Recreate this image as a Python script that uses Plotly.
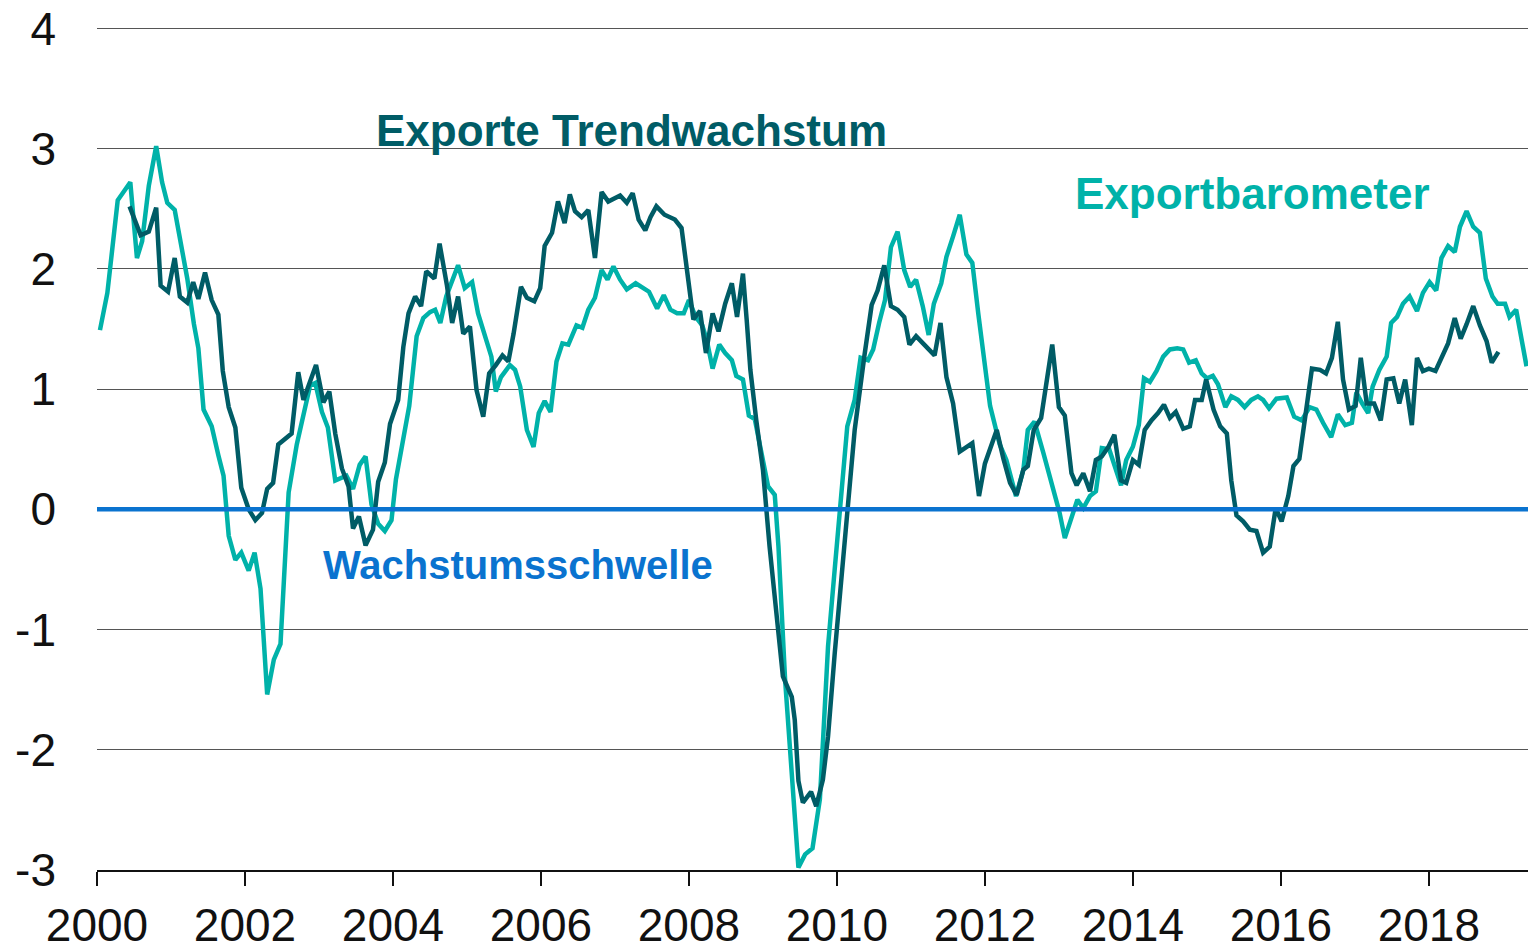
import plotly.graph_objects as go

# Exportbarometer (decimal year, value)
baro_x = [2000.04, 2000.14, 2000.28, 2000.45, 2000.54, 2000.61, 2000.70, 2000.80, 2000.88, 2000.95,
          2001.05, 2001.13, 2001.22, 2001.31, 2001.37, 2001.44, 2001.55, 2001.64, 2001.71, 2001.78,
          2001.87, 2001.95, 2002.05, 2002.13, 2002.21, 2002.30, 2002.39, 2002.48, 2002.59, 2002.70,
          2002.88, 2002.95, 2003.04, 2003.12, 2003.22, 2003.37, 2003.46, 2003.55, 2003.63, 2003.71,
          2003.80, 2003.89, 2003.98, 2004.04, 2004.13, 2004.22, 2004.32, 2004.41, 2004.50, 2004.57,
          2004.64, 2004.72, 2004.88, 2004.97, 2005.07, 2005.15, 2005.26, 2005.33, 2005.39, 2005.46,
          2005.58, 2005.65, 2005.72, 2005.81, 2005.90, 2005.97, 2006.05, 2006.13, 2006.21, 2006.29,
          2006.37, 2006.48, 2006.56, 2006.64, 2006.73, 2006.82, 2006.90, 2006.98, 2007.07, 2007.16,
          2007.28, 2007.37, 2007.46, 2007.57, 2007.66, 2007.75, 2007.84, 2007.93, 2008.00, 2008.09,
          2008.18, 2008.24, 2008.32, 2008.41, 2008.49, 2008.58, 2008.64, 2008.73, 2008.81, 2008.89,
          2008.98, 2009.07, 2009.16, 2009.21, 2009.30, 2009.39, 2009.48, 2009.57, 2009.67, 2009.77,
          2009.88, 2009.97, 2010.06, 2010.14, 2010.24, 2010.32, 2010.42, 2010.49, 2010.57, 2010.65,
          2010.73, 2010.82, 2010.91, 2010.99, 2011.07, 2011.16, 2011.24, 2011.31, 2011.41, 2011.48,
          2011.57, 2011.66, 2011.75, 2011.83, 2011.91, 2011.98, 2012.07, 2012.20, 2012.29, 2012.42,
          2012.52, 2012.58, 2012.67, 2012.79, 2012.88, 2012.95, 2013.01, 2013.08, 2013.17, 2013.25,
          2013.33, 2013.42, 2013.50, 2013.58, 2013.68, 2013.76, 2013.84, 2013.91, 2014.00, 2014.08,
          2014.15, 2014.23, 2014.32, 2014.41, 2014.50, 2014.60, 2014.68, 2014.76, 2014.85, 2014.93,
          2015.00, 2015.08, 2015.15, 2015.25, 2015.33, 2015.42, 2015.51, 2015.60, 2015.69, 2015.76,
          2015.84, 2015.94, 2016.08, 2016.18, 2016.28, 2016.39, 2016.48, 2016.57, 2016.68, 2016.77,
          2016.87, 2016.96, 2017.02, 2017.10, 2017.18, 2017.24, 2017.33, 2017.43, 2017.49, 2017.57,
          2017.65, 2017.74, 2017.84, 2017.92, 2018.01, 2018.10, 2018.17, 2018.26, 2018.35, 2018.42,
          2018.51, 2018.60, 2018.69, 2018.77, 2018.86, 2018.93, 2019.03, 2019.09, 2019.18, 2019.32]
baro_y = [1.49, 1.80, 2.57, 2.72, 2.09, 2.23, 2.69, 3.02, 2.72, 2.55,
          2.49, 2.23, 1.92, 1.54, 1.34, 0.83, 0.69, 0.45, 0.28, -0.22,
          -0.42, -0.36, -0.51, -0.36, -0.66, -1.54, -1.25, -1.12, 0.14, 0.54,
          1.03, 1.05, 0.81, 0.68, 0.24, 0.28, 0.17, 0.37, 0.44, 0.04,
          -0.12, -0.18, -0.09, 0.25, 0.58, 0.86, 1.44, 1.59, 1.64, 1.66,
          1.55, 1.77, 2.03, 1.84, 1.89, 1.63, 1.41, 1.27, 0.98, 1.10,
          1.20, 1.16, 1.02, 0.66, 0.52, 0.80, 0.90, 0.81, 1.23, 1.38,
          1.37, 1.53, 1.51, 1.66, 1.76, 1.99, 1.91, 2.02, 1.91, 1.83,
          1.88, 1.85, 1.81, 1.67, 1.78, 1.66, 1.63, 1.63, 1.74, 1.60,
          1.53, 1.41, 1.17, 1.37, 1.30, 1.24, 1.11, 1.08, 0.78, 0.75,
          0.47, 0.19, 0.12, -0.31, -1.42, -2.25, -2.98, -2.87, -2.82, -2.41,
          -1.14, -0.50, 0.14, 0.69, 0.91, 1.26, 1.24, 1.33, 1.55, 1.74,
          2.18, 2.31, 1.99, 1.85, 1.91, 1.69, 1.45, 1.71, 1.88, 2.10,
          2.27, 2.45, 2.12, 2.05, 1.63, 1.30, 0.86, 0.54, 0.41, 0.11,
          0.33, 0.66, 0.73, 0.47, 0.27, 0.11, -0.03, -0.24, -0.06, 0.08,
          0.01, 0.11, 0.15, 0.51, 0.50, 0.36, 0.20, 0.41, 0.52, 0.70,
          1.09, 1.06, 1.15, 1.27, 1.33, 1.34, 1.33, 1.22, 1.24, 1.13,
          1.09, 1.11, 1.04, 0.85, 0.94, 0.91, 0.85, 0.91, 0.94, 0.91,
          0.84, 0.92, 0.93, 0.77, 0.74, 0.85, 0.83, 0.72, 0.60, 0.79,
          0.70, 0.72, 0.97, 0.88, 0.80, 1.02, 1.16, 1.27, 1.55, 1.60,
          1.71, 1.77, 1.65, 1.80, 1.89, 1.82, 2.09, 2.19, 2.14, 2.35,
          2.48, 2.35, 2.30, 1.92, 1.77, 1.71, 1.71, 1.60, 1.66, 1.19]

# Exporte Trendwachstum (decimal year, value)
trend_x = [2000.44, 2000.59, 2000.70, 2000.80, 2000.86, 2000.96, 2001.05, 2001.12, 2001.22, 2001.30,
           2001.37, 2001.46, 2001.55, 2001.64, 2001.70, 2001.78, 2001.87, 2001.95, 2002.05, 2002.14,
           2002.23, 2002.30, 2002.38, 2002.45, 2002.63, 2002.72, 2002.79, 2002.96, 2003.06, 2003.14,
           2003.22, 2003.31, 2003.40, 2003.46, 2003.54, 2003.63, 2003.73, 2003.80, 2003.89, 2003.96,
           2004.07, 2004.14, 2004.21, 2004.30, 2004.38, 2004.45, 2004.56, 2004.63, 2004.73, 2004.80,
           2004.88, 2004.95, 2005.04, 2005.13, 2005.22, 2005.30, 2005.39, 2005.48, 2005.56, 2005.63,
           2005.73, 2005.81, 2005.91, 2005.99, 2006.05, 2006.15, 2006.23, 2006.32, 2006.39, 2006.46,
           2006.55, 2006.64, 2006.73, 2006.82, 2006.91, 2007.07, 2007.16, 2007.24, 2007.32, 2007.41,
           2007.48, 2007.56, 2007.67, 2007.81, 2007.90, 2007.98, 2008.06, 2008.15, 2008.23, 2008.32,
           2008.40, 2008.49, 2008.58, 2008.65, 2008.73, 2008.78, 2008.83, 2008.91, 2009.00, 2009.09,
           2009.18, 2009.27, 2009.39, 2009.43, 2009.48, 2009.54, 2009.65, 2009.72, 2009.81, 2009.88,
           2009.97, 2010.06, 2010.13, 2010.24, 2010.37, 2010.47, 2010.55, 2010.64, 2010.73, 2010.82,
           2010.91, 2010.98, 2011.07, 2011.21, 2011.32, 2011.40, 2011.48, 2011.57, 2011.66, 2011.83,
           2011.92, 2012.00, 2012.16, 2012.25, 2012.34, 2012.43, 2012.52, 2012.58, 2012.66, 2012.76,
           2012.84, 2012.91, 2013.00, 2013.08, 2013.17, 2013.24, 2013.33, 2013.42, 2013.50, 2013.58,
           2013.67, 2013.75, 2013.84, 2013.91, 2014.00, 2014.08, 2014.16, 2014.25, 2014.34, 2014.42,
           2014.50, 2014.58, 2014.68, 2014.77, 2014.84, 2014.93, 2014.99, 2015.09, 2015.18, 2015.27,
           2015.33, 2015.40, 2015.49, 2015.58, 2015.67, 2015.76, 2015.85, 2015.93, 2016.01, 2016.10,
           2016.17, 2016.25, 2016.42, 2016.53, 2016.61, 2016.69, 2016.77, 2016.84, 2016.92, 2017.01,
           2017.08, 2017.16, 2017.26, 2017.35, 2017.43, 2017.52, 2017.60, 2017.68, 2017.77, 2017.84,
           2017.92, 2018.00, 2018.09, 2018.17, 2018.26, 2018.35, 2018.43, 2018.51, 2018.60, 2018.69,
           2018.78, 2018.85, 2018.94]
trend_y = [2.52, 2.28, 2.31, 2.51, 1.86, 1.81, 2.09, 1.77, 1.72, 1.89,
           1.75, 1.97, 1.74, 1.62, 1.15, 0.85, 0.68, 0.18, 0.00, -0.09,
           -0.03, 0.17, 0.22, 0.54, 0.63, 1.14, 0.91, 1.20, 0.89, 0.98,
           0.63, 0.34, 0.19, -0.16, -0.06, -0.30, -0.17, 0.23, 0.39, 0.71,
           0.91, 1.35, 1.63, 1.77, 1.69, 1.98, 1.92, 2.21, 1.86, 1.55,
           1.77, 1.46, 1.52, 0.99, 0.77, 1.13, 1.20, 1.28, 1.23, 1.46,
           1.85, 1.76, 1.73, 1.84, 2.19, 2.30, 2.56, 2.38, 2.62, 2.48,
           2.43, 2.49, 2.09, 2.64, 2.56, 2.61, 2.55, 2.63, 2.41, 2.32,
           2.43, 2.52, 2.45, 2.41, 2.34, 1.99, 1.58, 1.65, 1.30, 1.63,
           1.48, 1.71, 1.88, 1.60, 1.96, 1.58, 1.16, 0.74, 0.33, -0.31,
           -0.86, -1.39, -1.56, -1.75, -2.26, -2.44, -2.35, -2.47, -2.25, -1.89,
           -1.20, -0.59, -0.09, 0.66, 1.27, 1.70, 1.82, 2.03, 1.69, 1.66,
           1.60, 1.37, 1.44, 1.35, 1.28, 1.55, 1.10, 0.88, 0.48, 0.55,
           0.11, 0.38, 0.66, 0.42, 0.22, 0.12, 0.33, 0.36, 0.66, 0.76,
           1.10, 1.37, 0.85, 0.78, 0.30, 0.20, 0.30, 0.15, 0.41, 0.44,
           0.52, 0.62, 0.24, 0.22, 0.41, 0.37, 0.66, 0.74, 0.80, 0.87,
           0.76, 0.81, 0.67, 0.69, 0.91, 0.91, 1.08, 0.83, 0.69, 0.63,
           0.24, -0.05, -0.10, -0.17, -0.18, -0.36, -0.31, 0.01, -0.10, 0.11,
           0.36, 0.42, 1.17, 1.16, 1.13, 1.26, 1.56, 1.08, 0.83, 0.86,
           1.26, 0.88, 0.88, 0.74, 1.08, 1.09, 0.88, 1.08, 0.70, 1.26,
           1.15, 1.17, 1.15, 1.26, 1.38, 1.59, 1.42, 1.54, 1.69, 1.53,
           1.40, 1.22, 1.31]

x_ticks = [2000, 2002, 2004, 2006, 2008, 2010, 2012, 2014, 2016, 2018]
y_ticks = [-3, -2, -1, 0, 1, 2, 3, 4]
threshold = 0

DARK = "#005c66"
LIGHT = "#00b2a9"
BLUE = "#0a73cf"
FONT = "Liberation Sans"

fig = go.Figure()
fig.add_trace(go.Scatter(x=baro_x, y=baro_y, mode="lines", name="Exportbarometer",
                         line=dict(color=LIGHT, width=4.5), hoverinfo="skip"))
fig.add_trace(go.Scatter(x=trend_x, y=trend_y, mode="lines", name="Exporte Trendwachstum",
                         line=dict(color=DARK, width=4.5), hoverinfo="skip"))

fig.add_shape(type="line", xref="paper", yref="y", x0=0, x1=1, y0=threshold, y1=threshold,
              line=dict(color=BLUE, width=4.5), layer="above")

fig.add_annotation(x=2007.22, y=3.15, text="<b>Exporte Trendwachstum</b>", showarrow=False,
                   font=dict(family=FONT, size=44, color=DARK))
fig.add_annotation(x=2015.61, y=2.63, text="<b>Exportbarometer</b>", showarrow=False,
                   font=dict(family=FONT, size=44, color=LIGHT))
fig.add_annotation(x=2005.69, y=-0.46, text="<b>Wachstumsschwelle</b>", showarrow=False,
                   font=dict(family=FONT, size=40, color=BLUE))

fig.update_layout(
    width=1528, height=952,
    margin=dict(l=97, r=0, t=26, b=82),
    paper_bgcolor="white", plot_bgcolor="white",
    showlegend=False,
    font=dict(family=FONT, size=46, color="#111111"),
    xaxis=dict(range=[2000, 2019.34], tickvals=x_ticks, ticktext=[str(v) for v in x_ticks],
               showgrid=False, zeroline=False, showline=True, linecolor="#111111", linewidth=1.5,
               ticks="outside", ticklen=14, tickwidth=1.5, tickcolor="#111111",
               tickfont=dict(family=FONT, size=46, color="#111111")),
    yaxis=dict(range=[-3, 4.02], tickvals=y_ticks, ticktext=[str(v) for v in y_ticks],
               showgrid=True, gridcolor="#555555", gridwidth=1, zeroline=False, showline=False,
               ticks="", ticklabelstandoff=40,
               tickfont=dict(family=FONT, size=46, color="#111111")),
)

fig.write_html("out.html", config={"displayModeBar": False},
               post_script="document.body.style.margin='0';")
